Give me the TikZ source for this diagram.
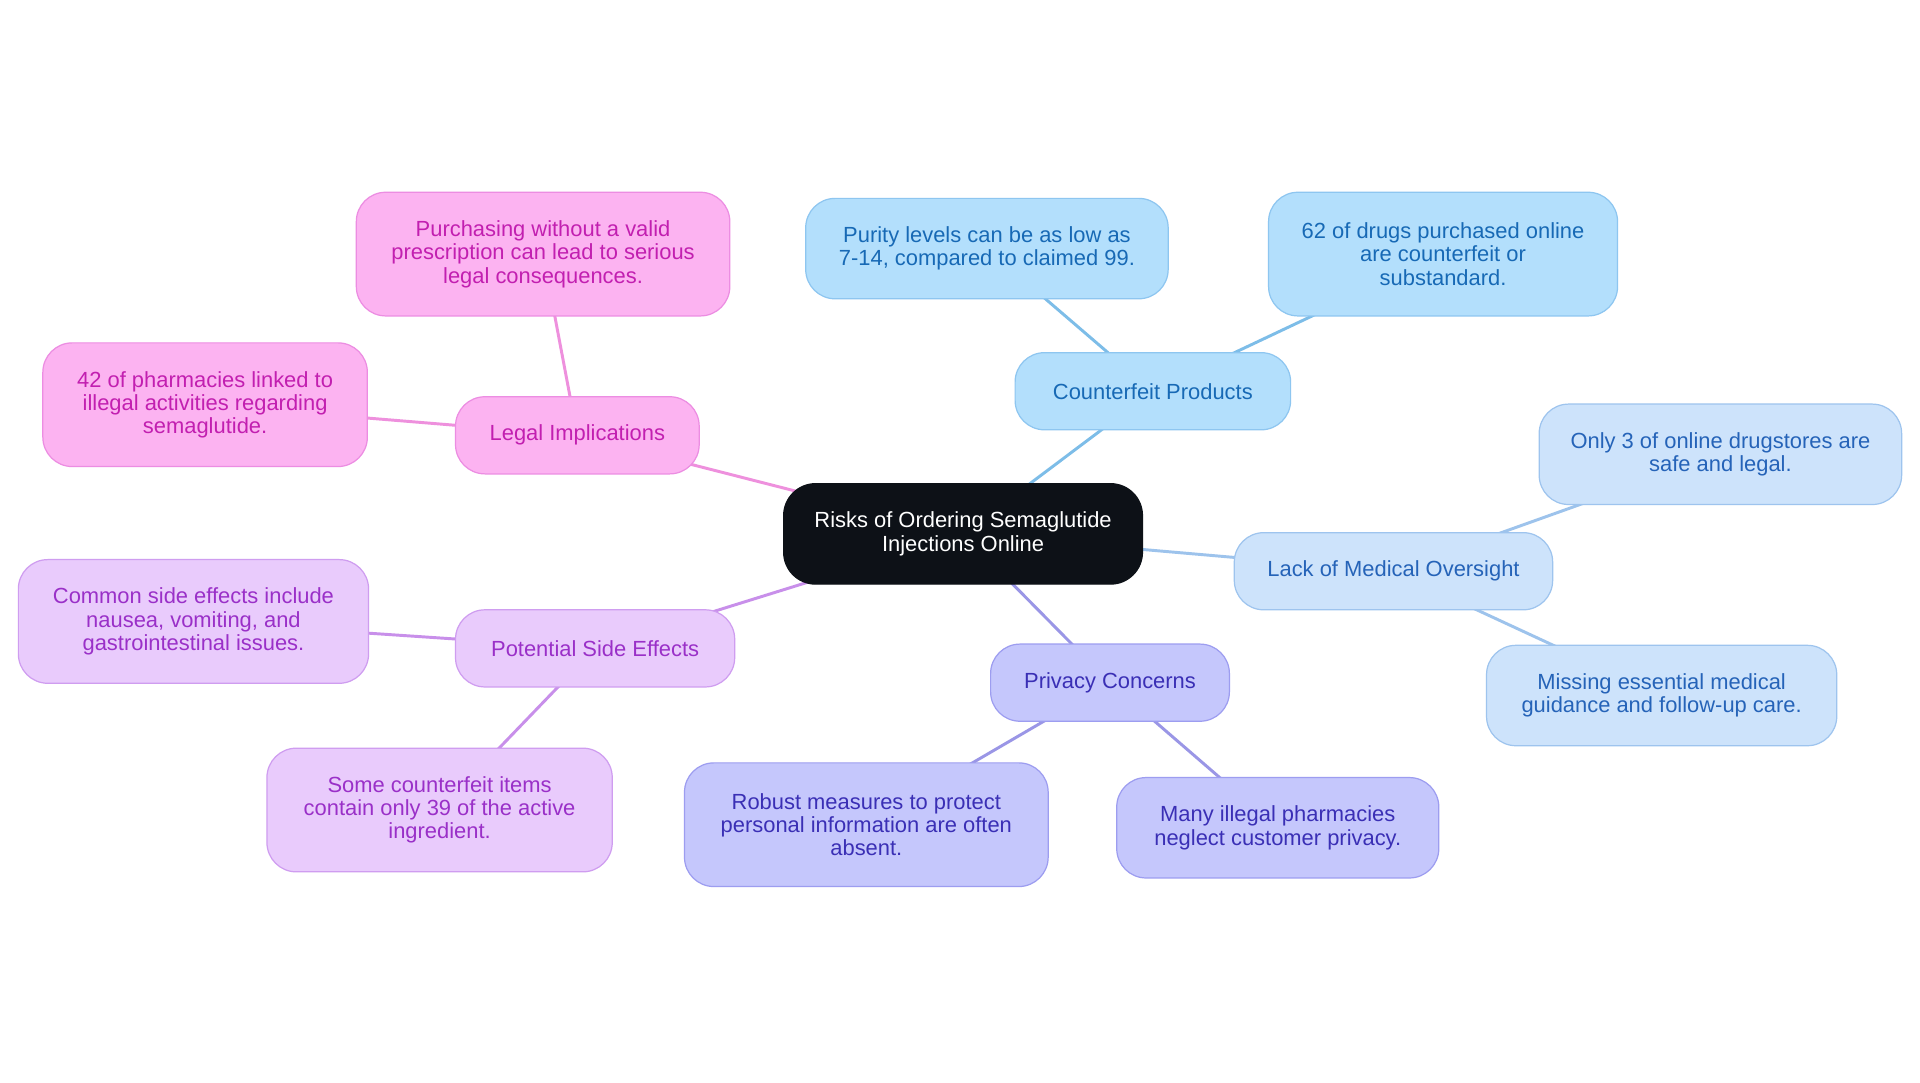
\documentclass[tikz,border=0pt]{standalone}
\usepackage{fontspec}
\setmainfont{Liberation Sans}
\usetikzlibrary{backgrounds}
\definecolor{rootfill}{HTML}{0D1117}
\definecolor{cpfill}{HTML}{B3DFFC}\definecolor{cpline}{HTML}{8EC6F0}\definecolor{cptext}{HTML}{1769B5}\definecolor{cpedge}{HTML}{7DBDE8}
\definecolor{lmfill}{HTML}{CDE3FB}\definecolor{lmline}{HTML}{9EC4EE}\definecolor{lmtext}{HTML}{2563B8}\definecolor{lmedge}{HTML}{9DC3EC}
\definecolor{pcfill}{HTML}{C5C7FC}\definecolor{pcline}{HTML}{9D9DF0}\definecolor{pctext}{HTML}{3A2FB5}\definecolor{pcedge}{HTML}{9A96E6}
\definecolor{sefill}{HTML}{E9CBFC}\definecolor{seline}{HTML}{CF9DF0}\definecolor{setext}{HTML}{9A30C8}\definecolor{seedge}{HTML}{C88FEA}
\definecolor{lifill}{HTML}{FCB3F1}\definecolor{liline}{HTML}{EC8DE2}\definecolor{litext}{HTML}{C21FB0}\definecolor{liedge}{HTML}{EE90DD}
\tikzset{
  box/.style={rectangle, rounded corners=12pt, draw, line width=0.5pt, inner sep=0pt, align=center,
    font=\fontsize{8.95}{9.5}\selectfont},
  sz/.style 2 args={minimum width=#1*0.5pt, minimum height=#2*0.5pt},
  rootbox/.style={box, rounded corners=13pt, fill=rootfill, draw=rootfill, text=white},
  cpbox/.style={box, fill=cpfill, draw=cpline, text=cptext},
  lmbox/.style={box, fill=lmfill, draw=lmline, text=lmtext},
  pcbox/.style={box, fill=pcfill, draw=pcline, text=pctext},
  sebox/.style={box, fill=sefill, draw=seline, text=setext},
  libox/.style={box, fill=lifill, draw=liline, text=litext},
  link/.style={line width=1.2pt},
}
\begin{document}
\begin{tikzpicture}[x=0.5pt, y=-0.5pt]
\useasboundingbox (0,0) rectangle (1568,884.4);
% root
\node[rootbox, sz={293}{82}] (root) at (786.5,436) {Risks of Ordering Semaglutide\\Injections Online};
% counterfeit
\node[cpbox, sz={225}{63}] (cp) at (941.5,319.5) {Counterfeit Products};
\node[cpbox, sz={296}{82}] (purity) at (806,203) {Purity levels can be as low as\\7-14, compared to claimed 99.};
\node[cpbox, sz={285}{101}] (sixty) at (1178.5,207.5) {62 of drugs purchased online\\are counterfeit or\\substandard.};
% lack of oversight
\node[lmbox, sz={260}{63}] (lmo) at (1138,466.5) {Lack of Medical Oversight};
\node[lmbox, sz={296}{82}] (only) at (1405,371) {Only 3 of online drugstores are\\safe and legal.};
\node[lmbox, sz={286}{82}] (missing) at (1357,568) {Missing essential medical\\guidance and follow-up care.};
% privacy
\node[pcbox, sz={195}{63}] (pc) at (906.5,557.5) {Privacy Concerns};
\node[pcbox, sz={297}{101}] (robust) at (707.5,673.5) {Robust measures to protect\\personal information are often\\absent.};
\node[pcbox, sz={263}{82}] (many) at (1043.5,676) {Many illegal pharmacies\\neglect customer privacy.};
% side effects
\node[sebox, sz={228}{63}] (pse) at (486,529.5) {Potential Side Effects};
\node[sebox, sz={286}{101}] (common) at (158,507.5) {Common side effects include\\nausea, vomiting, and\\gastrointestinal issues.};
\node[sebox, sz={282}{101}] (some) at (359,661.5) {Some counterfeit items\\contain only 39 of the active\\ingredient.};
% legal
\node[libox, sz={199}{63}] (li) at (471.5,355.5) {Legal Implications};
\node[libox, sz={305}{101}] (purch) at (443.5,207.5) {Purchasing without a valid\\prescription can lead to serious\\legal consequences.};
\node[libox, sz={265}{101}] (forty) at (167.5,330.5) {42 of pharmacies linked to\\illegal activities regarding\\semaglutide.};
% white page and connectors (behind the boxes, centre to centre)
\begin{scope}[on background layer]
\fill[white] (0,0) rectangle (1568,884.4);
\draw[link, cpedge] (root.center) -- (cp.center);
\draw[link, cpedge] (cp.center) -- (purity.center);
\draw[link, cpedge] (cp.center) -- (sixty.center);
\draw[link, lmedge] (root.center) -- (lmo.center);
\draw[link, lmedge] (lmo.center) -- (only.center);
\draw[link, lmedge] (lmo.center) -- (missing.center);
\draw[link, pcedge] (root.center) -- (pc.center);
\draw[link, pcedge] (pc.center) -- (robust.center);
\draw[link, pcedge] (pc.center) -- (many.center);
\draw[link, seedge] (root.center) -- (pse.center);
\draw[link, seedge] (pse.center) -- (common.center);
\draw[link, seedge] (pse.center) -- (some.center);
\draw[link, liedge] (root.center) -- (li.center);
\draw[link, liedge] (li.center) -- (purch.center);
\draw[link, liedge] (li.center) -- (forty.center);
\end{scope}
\end{tikzpicture}
\end{document}
